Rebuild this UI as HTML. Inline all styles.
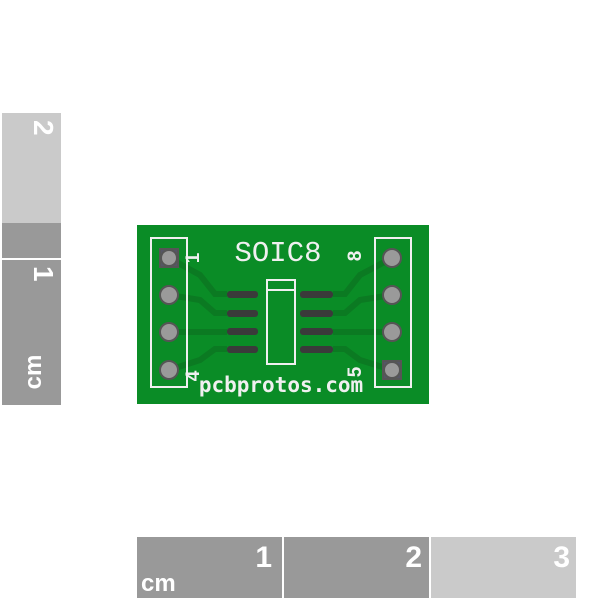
<!DOCTYPE html>
<html><head><style>body{margin:0;background:#fff}svg{display:block}</style></head><body>
<svg width="600" height="600" xmlns="http://www.w3.org/2000/svg" font-family="Liberation Sans, sans-serif">
<!-- left ruler -->
<rect x="2" y="113" width="59" height="110" fill="#cacaca"/>
<rect x="2" y="223" width="59" height="35" fill="#999"/>
<rect x="2" y="260" width="59" height="145" fill="#999"/>
<text transform="translate(34,120) rotate(90)" font-size="28" font-weight="bold" fill="#fff">2</text>
<text transform="translate(34,266) rotate(90)" font-size="28" font-weight="bold" fill="#fff">1</text>
<text transform="translate(33,372) rotate(-90)" font-size="24" font-weight="bold" fill="#fff" text-anchor="middle" dy="8">cm</text>
<!-- bottom ruler -->
<rect x="137" y="537" width="145" height="61" fill="#999"/>
<rect x="284" y="537" width="145" height="61" fill="#999"/>
<rect x="431" y="537" width="145" height="61" fill="#cacaca"/>
<text x="272" y="567" font-size="30" font-weight="bold" fill="#fff" text-anchor="end">1</text>
<text x="422" y="567" font-size="30" font-weight="bold" fill="#fff" text-anchor="end">2</text>
<text x="570" y="567" font-size="30" font-weight="bold" fill="#fff" text-anchor="end">3</text>
<text x="141" y="591" font-size="24" font-weight="bold" fill="#fff">cm</text>
<!-- PCB -->
<rect x="137" y="225" width="292" height="179" fill="#0a8c26"/>
<g stroke="#0b7a22" stroke-width="6" fill="none">
<path d="M169 258 L200 275 L215 294 L227 294"/>
<path d="M169 295 L200 300 L215 313 L227 313"/>
<path d="M169 332 L227 332"/>
<path d="M169 370 L200 360 L215 349 L227 349"/>
<path d="M392 258 L360 275 L345 294 L333 294"/>
<path d="M392 295 L360 300 L345 313 L333 313"/>
<path d="M392 332 L333 332"/>
<path d="M392 370 L360 360 L345 349 L333 349"/>
</g>
<g fill="none" stroke="#f0f0f0" stroke-width="2">
<rect x="151" y="238" width="36" height="149"/>
<rect x="375" y="238" width="36" height="149"/>
<rect x="267" y="280" width="28" height="84"/>
<line x1="267" y1="290" x2="295" y2="290"/>
</g>
<g fill="#3a3a3a">
<rect x="227" y="291" width="31" height="7" rx="3"/>
<rect x="227" y="310" width="31" height="7" rx="3"/>
<rect x="227" y="328" width="31" height="7" rx="3"/>
<rect x="227" y="346" width="31" height="7" rx="3"/>
<rect x="300" y="291" width="33" height="7" rx="3"/>
<rect x="300" y="310" width="33" height="7" rx="3"/>
<rect x="300" y="328" width="33" height="7" rx="3"/>
<rect x="300" y="346" width="33" height="7" rx="3"/>
</g>
<g fill="#9a9a9a" stroke="#555" stroke-width="2">
<rect x="160" y="249" width="18" height="18" fill="#556"/>
<circle cx="169" cy="258" r="8"/>
<circle cx="169" cy="295" r="9"/>
<circle cx="169" cy="332" r="9"/>
<circle cx="169" cy="370" r="9"/>
<circle cx="392" cy="258" r="9"/>
<circle cx="392" cy="295" r="9"/>
<circle cx="392" cy="332" r="9"/>
<rect x="383" y="361" width="18" height="18" fill="#556"/>
<circle cx="392" cy="370" r="8"/>
</g>
<text x="278" y="261" font-size="29" fill="#f0f0f0" text-anchor="middle" font-family="Liberation Mono, monospace">SOIC8</text>
<text x="281" y="392" font-size="21" fill="#f0f0f0" text-anchor="middle" font-family="DejaVu Sans Mono, monospace" font-weight="bold">pcbprotos.com</text>
<g font-size="19" font-weight="bold" fill="#f0f0f0">
<text transform="translate(199,258) rotate(-90)" text-anchor="middle">1</text>
<text transform="translate(199,376) rotate(-90)" text-anchor="middle">4</text>
<text transform="translate(361,256) rotate(-90)" text-anchor="middle">8</text>
<text transform="translate(361,372) rotate(-90)" text-anchor="middle">5</text>
</g>
</svg>
</body></html>
